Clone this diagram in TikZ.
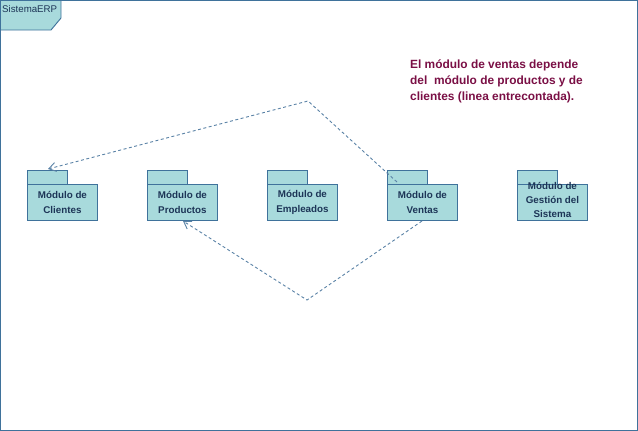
\documentclass[tikz,border=0pt]{standalone}
\usepackage{fontspec}
\setmainfont{Liberation Sans}
\usetikzlibrary{arrows.meta}
\definecolor{pkgfill}{HTML}{A8DADC}
\definecolor{pkgline}{HTML}{3F729B}
\definecolor{pkgtext}{HTML}{1D3557}
\definecolor{deplink}{HTML}{5A82A6}
\definecolor{notecol}{HTML}{7A0F45}
\tikzset{
  pkgbody/.style={draw=pkgline, fill=pkgfill, line width=0.9pt, minimum width=70pt, minimum height=36pt, inner sep=0pt},
  pkgtab/.style={draw=pkgline, fill=pkgfill, line width=0.9pt},
  pkglabel/.style={text=pkgtext, font=\fontsize{9.8}{14.5}\selectfont\bfseries, align=center, inner sep=0pt},
  deparrow/.style={draw=deplink, line width=0.9pt, dash pattern=on 3pt off 2.5pt, -{Straight Barb[length=7pt,width=9pt,line width=0.9pt]}},
}
\begin{document}
\begin{tikzpicture}[x=1pt,y=-1pt]
\useasboundingbox (0,0) rectangle (638,431);
% frame
\draw[pkgline, line width=0.9pt] (0.5,0.5) rectangle (637.5,430.5);
\draw[pkgtab] (0.5,0.5) -- (61,0.5) -- (61,18) -- (51,30) -- (0.5,30) -- cycle;
\node[anchor=west, text=pkgtext, font=\fontsize{9.7}{11}\selectfont, inner sep=0pt] (frametitle) at (2,9.5) {SistemaERP};
% packages
\foreach \nm/\x in {clientes/27, productos/147, empleados/267, ventas/387, gestion/517} {
  \draw[pkgtab] (\x,170) rectangle (\x+40,184);
  \node[pkgbody, anchor=north west] (\nm) at (\x,184) {};
}
\node[pkglabel] (lclientes) at (clientes.center) {Módulo de\\Clientes};
\node[pkglabel] (lproductos) at (productos.center) {Módulo de\\Productos};
\node[pkglabel] (lempleados) at (empleados.center) {Módulo de\\Empleados};
\node[pkglabel] (lventas) at (ventas.center) {Módulo de\\Ventas};
\node[pkglabel, font=\fontsize{9.8}{14}\selectfont\bfseries, anchor=north] (lgestion) at ([yshift=2pt]gestion.north) {Módulo de\\Gestión del\\Sistema};
% note
\node[anchor=north west, text=notecol, font=\fontsize{11.9}{16}\selectfont\bfseries, align=left, inner sep=0pt] (note) at (410,60) {El módulo de ventas depende\\del \ módulo de productos y de\\clientes (linea entrecontada).};
% dependencies
\coordinate (v1) at (397,182);
\coordinate (top) at (308,101);
\coordinate (c1) at (48,169);
\coordinate (v2) at (422,221);
\coordinate (bot) at (307,300);
\coordinate (p1) at (183,221);
\draw[deparrow] (v1) -- (top) -- (c1);
\draw[deparrow] (v2) -- (bot) -- (p1);
\end{tikzpicture}
\end{document}
